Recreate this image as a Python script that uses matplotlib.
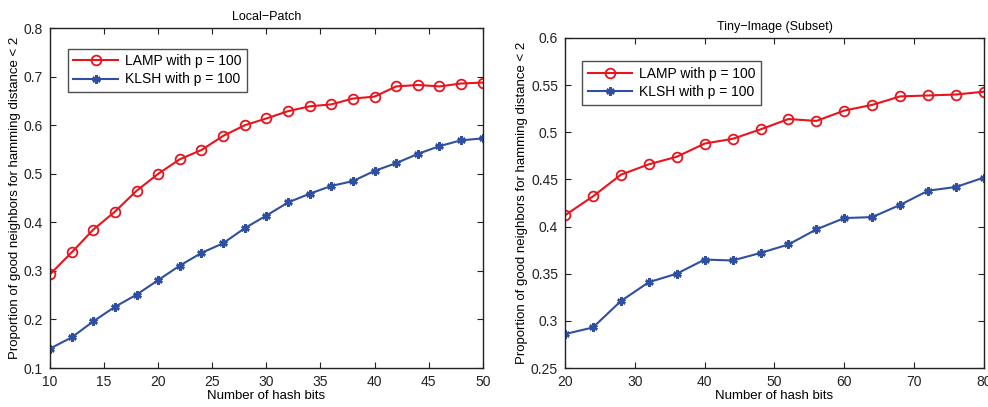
import matplotlib
matplotlib.use("Agg")
import matplotlib.pyplot as plt

plt.rcParams["font.family"] = ["Liberation Sans", "DejaVu Sans"]

# Local-Patch
bits_lp = [10, 12, 14, 16, 18, 20, 22, 24, 26, 28, 30, 32, 34, 36, 38, 40, 42, 44, 46, 48, 50]
lamp_lp = [0.293, 0.338, 0.385, 0.422, 0.465, 0.500, 0.530, 0.549, 0.578, 0.600, 0.614,
           0.629, 0.639, 0.643, 0.655, 0.659, 0.680, 0.683, 0.680, 0.686, 0.688]
klsh_lp = [0.140, 0.163, 0.196, 0.226, 0.251, 0.281, 0.311, 0.337, 0.357, 0.388, 0.414,
           0.441, 0.459, 0.475, 0.485, 0.506, 0.522, 0.541, 0.557, 0.569, 0.573]

# Tiny-Image (Subset)
bits_ti = [20, 24, 28, 32, 36, 40, 44, 48, 52, 56, 60, 64, 68, 72, 76, 80]
lamp_ti = [0.412, 0.432, 0.455, 0.466, 0.474, 0.488, 0.493, 0.503, 0.514, 0.512,
           0.523, 0.529, 0.538, 0.539, 0.540, 0.543]
klsh_ti = [0.286, 0.293, 0.321, 0.341, 0.350, 0.365, 0.364, 0.372, 0.381, 0.397,
           0.409, 0.410, 0.423, 0.438, 0.442, 0.452]

RED = "#e8141e"
BLUE = "#2f4fa0"
YLABEL = "Proportion of good neighbors for hamming distance < 2"


def panel(ax, x, lamp, klsh, title, xlim, ylim, xticks, yticks, ytl, legend_anchor):
    ax.plot(x, lamp, "-o", color=RED, lw=1.5, ms=7, mfc="none", mew=1.3,
            label="LAMP with p = 100")
    ax.plot(x, klsh, "-", marker=(6, 2, 0), color=BLUE, lw=1.5, ms=6, mew=1.8,
            label="KLSH with p = 100")
    ax.set_xlim(xlim); ax.set_ylim(ylim)
    ax.set_xticks(xticks); ax.set_yticks(yticks)
    ax.set_yticklabels(ytl)
    ax.tick_params(direction="in", top=True, right=True, labelsize=10, length=4,
                   colors="#222222", pad=5)
    for s in ax.spines.values():
        s.set_linewidth(1.0); s.set_color("#222222")
    ax.set_xlabel("Number of hash bits", fontsize=9.5, labelpad=1)
    ax.set_ylabel(YLABEL, fontsize=9.5, labelpad=2)
    ax.set_title(title, fontsize=9, pad=6)
    leg = ax.legend(loc="upper left", bbox_to_anchor=legend_anchor, fontsize=10,
                    fancybox=False, edgecolor="#222222", handlelength=3.2,
                    borderpad=0.4, labelspacing=0.3, handletextpad=0.5)
    leg.get_frame().set_linewidth(1.0)


fig = plt.figure(figsize=(9.88, 4.07), dpi=100)
ax1 = fig.add_axes([0.0506, 0.0958, 0.438, 0.835])
ax2 = fig.add_axes([0.5719, 0.0958, 0.424, 0.811])

panel(ax1, bits_lp, lamp_lp, klsh_lp, "Local\u2212Patch", (10, 50), (0.1, 0.8),
      range(10, 51, 5), [0.1, 0.2, 0.3, 0.4, 0.5, 0.6, 0.7, 0.8],
      ["0.1", "0.2", "0.3", "0.4", "0.5", "0.6", "0.7", "0.8"], (0.025, 0.96))
panel(ax2, bits_ti, lamp_ti, klsh_ti, "Tiny\u2212Image (Subset)", (20, 80), (0.25, 0.6),
      range(20, 81, 10), [0.25, 0.3, 0.35, 0.4, 0.45, 0.5, 0.55, 0.6],
      ["0.25", "0.3", "0.35", "0.4", "0.45", "0.5", "0.55", "0.6"], (0.025, 0.95))

fig.savefig("out.png", dpi=100)
